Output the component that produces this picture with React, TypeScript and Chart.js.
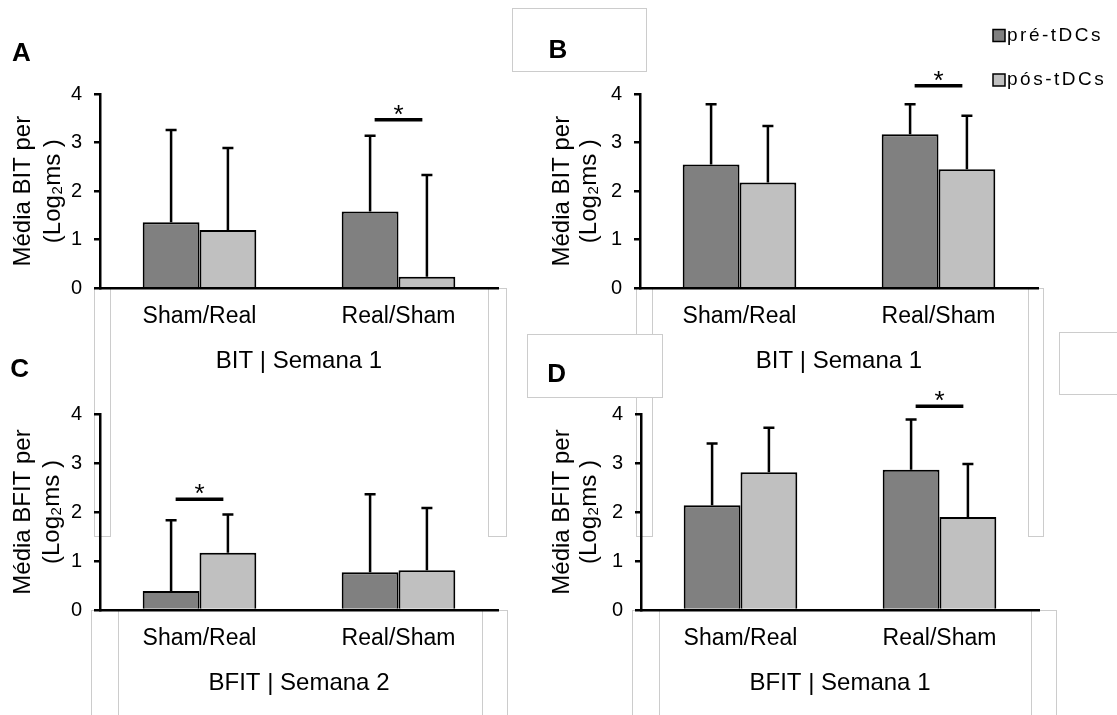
import React, { useEffect, useRef } from 'react';
import { Chart, registerables } from 'chart.js';

Chart.register(...registerables);

// ---------------- data ----------------
const categories = ['Sham/Real', 'Real/Sham'];
const seriesNames = ['pré-tDCs', 'pós-tDCs'];
const yTickValues = [0, 1, 2, 3, 4];
const sigMark = '*';
const panelLetters = ['A', 'B', 'C', 'D'];

const yTitleBIT = ['Média BIT per', '(Log₂ms )'];
const yTitleBFIT = ['Média BFIT per', '(Log₂ms )'];
const xTitleA = 'BIT | Semana 1';
const xTitleB = 'BIT | Semana 1';
const xTitleC = 'BFIT | Semana 2';
const xTitleD = 'BFIT | Semana 1';

// Panel A
const preA = [1.36, 1.58];
const preSdA = [1.9, 1.56];
const postA = [1.2, 0.24];
const postSdA = [1.69, 2.09];
const sigA = { category: 'Real/Sham', value: 3.47 };

// Panel B
const preB = [2.55, 3.17];
const preSdB = [1.24, 0.62];
const postB = [2.18, 2.45];
const postSdB = [1.16, 1.1];
const sigB = { category: 'Real/Sham', value: 4.17 };

// Panel C
const preC = [0.39, 0.77];
const preSdC = [1.44, 1.59];
const postC = [1.17, 0.81];
const postSdC = [0.78, 1.27];
const sigC = { category: 'Sham/Real', value: 2.26 };

// Panel D
const preD = [2.14, 2.86];
const preSdD = [1.26, 1.03];
const postD = [2.81, 1.9];
const postSdD = [0.91, 1.08];
const sigD = { category: 'Real/Sham', value: 4.16 };

// ---------------- styles / layout ----------------
const FONT = "'Liberation Sans', Arial, Helvetica, sans-serif";
const COLORS = { pre: '#808080', post: '#c0c0c0', ink: '#000000', box: '#cccccc' };
const X_AXIS_H = 100;

const FRAMES = [
  { left: 0, top: 0, width: 540, height: 400, plotLeft: 100, plotRight: 498, plotTop: 94, plotBottom: 288.3, titleLine1: 23.3, titleLH: 30 },
  { left: 540, top: 0, width: 577, height: 400, plotLeft: 640, plotRight: 1038, plotTop: 94, plotBottom: 288.3, titleLine1: 562.5, titleLH: 27 },
  { left: 0, top: 320, width: 540, height: 395, plotLeft: 100, plotRight: 498, plotTop: 414, plotBottom: 610, titleLine1: 23.5, titleLH: 29 },
  { left: 540, top: 320, width: 577, height: 395, plotLeft: 641, plotRight: 1039, plotTop: 414, plotBottom: 610, titleLine1: 562.5, titleLH: 27 },
];

const LETTER_POS = [
  { x: 21.5, y: 52 },
  { x: 558, y: 49 },
  { x: 19.7, y: 368 },
  { x: 556.7, y: 373 },
];

const LEGEND = { boxX: 993, boxSize: 12, textX: 1007, rowY: [35.5, 80], fontSize: 19, spacing: 2.5 };

// faint outline rectangles present in the source figure [x1, y1, x2, y2, whiteFill]
const BOXES: [number, number, number, number, boolean][] = [
  [94, 288, 111, 537, false],
  [488, 288, 507, 537, false],
  [635.5, 288, 653, 537, false],
  [1028, 288, 1044, 537, false],
  [91, 610, 119, 730, false],
  [482, 610, 508, 730, false],
  [632, 610, 660, 730, false],
  [1031, 610, 1057, 730, false],
  [1059, 332, 1140, 395, true],
  [527, 334, 663, 398, true],
  [512, 8, 647, 72, true],
];

const PANELS = [
  { pre: preA, preSd: preSdA, post: postA, postSd: postSdA, sig: sigA, yTitle: yTitleBIT, xTitle: xTitleA, legend: false },
  { pre: preB, preSd: preSdB, post: postB, postSd: postSdB, sig: sigB, yTitle: yTitleBIT, xTitle: xTitleB, legend: true },
  { pre: preC, preSd: preSdC, post: postC, postSd: postSdC, sig: sigC, yTitle: yTitleBFIT, xTitle: xTitleC, legend: false },
  { pre: preD, preSd: preSdD, post: postD, postSd: postSdD, sig: sigD, yTitle: yTitleBFIT, xTitle: xTitleD, legend: false },
];

function makeChart(canvas: HTMLCanvasElement, frame: any, spec: any) {
  const sds = [spec.preSd, spec.postSd];
  const annotations = {
    id: 'annotations',
    afterDatasetsDraw(chart: any) {
      const ctx = chart.ctx;
      const y = chart.scales.y;
      ctx.save();
      ctx.strokeStyle = COLORS.ink;
      ctx.lineCap = 'butt';
      // error bars (upper only)
      ctx.lineWidth = 2.5;
      chart.data.datasets.forEach((ds: any, di: number) => {
        const meta = chart.getDatasetMeta(di);
        meta.data.forEach((bar: any, j: number) => {
          const topPx = y.getPixelForValue(ds.data[j] + sds[di][j]);
          ctx.beginPath();
          ctx.moveTo(bar.x, bar.y);
          ctx.lineTo(bar.x, topPx);
          ctx.moveTo(bar.x - 5.5, topPx);
          ctx.lineTo(bar.x + 5.5, topPx);
          ctx.stroke();
        });
      });
      // significance bracket
      const ci = categories.indexOf(spec.sig.category);
      const b0 = chart.getDatasetMeta(0).data[ci];
      const b1 = chart.getDatasetMeta(1).data[ci];
      const w = b0.width;
      const ly = y.getPixelForValue(spec.sig.value);
      const x0 = b0.x + 0.08 * w;
      const x1 = b1.x - 0.08 * w;
      ctx.lineWidth = 3.5;
      ctx.beginPath();
      ctx.moveTo(x0, ly);
      ctx.lineTo(x1, ly);
      ctx.stroke();
      ctx.fillStyle = COLORS.ink;
      ctx.font = `26px ${FONT}`;
      ctx.textAlign = 'center';
      ctx.textBaseline = 'alphabetic';
      ctx.fillText(sigMark, (x0 + x1) / 2, ly + 3);
      ctx.restore();
    },
    afterDraw(chart: any) {
      if (!spec.legend) return;
      const ctx = chart.ctx;
      ctx.save();
      chart.data.datasets.forEach((ds: any, di: number) => {
        const cy = LEGEND.rowY[di] - frame.top;
        const bx = LEGEND.boxX - frame.left;
        ctx.fillStyle = ds.backgroundColor;
        ctx.fillRect(bx, cy - LEGEND.boxSize / 2, LEGEND.boxSize, LEGEND.boxSize);
        ctx.strokeStyle = COLORS.ink;
        ctx.lineWidth = 1.5;
        ctx.strokeRect(bx, cy - LEGEND.boxSize / 2, LEGEND.boxSize, LEGEND.boxSize);
        ctx.fillStyle = COLORS.ink;
        ctx.font = `${LEGEND.fontSize}px ${FONT}`;
        (ctx as any).letterSpacing = `${LEGEND.spacing}px`;
        ctx.textAlign = 'left';
        ctx.textBaseline = 'middle';
        ctx.fillText(ds.label, LEGEND.textX - frame.left, cy);
        (ctx as any).letterSpacing = '0px';
      });
      ctx.restore();
    },
  };

  return new Chart(canvas, {
    type: 'bar',
    data: {
      labels: categories,
      datasets: [
        { label: seriesNames[0], data: spec.pre, backgroundColor: COLORS.pre, borderColor: COLORS.ink, borderWidth: 2, barPercentage: 1, categoryPercentage: 0.571 },
        { label: seriesNames[1], data: spec.post, backgroundColor: COLORS.post, borderColor: COLORS.ink, borderWidth: 2, barPercentage: 1, categoryPercentage: 0.571 },
      ],
    },
    options: {
      responsive: false,
      animation: false,
      events: [],
      layout: {
        padding: {
          left: 0,
          top: frame.plotTop - frame.top,
          right: frame.left + frame.width - frame.plotRight,
          bottom: frame.top + frame.height - frame.plotBottom - X_AXIS_H,
        },
      },
      plugins: { legend: { display: false }, tooltip: { enabled: false }, title: { display: false } },
      scales: {
        x: {
          grid: { display: false, drawTicks: false },
          border: { display: true, color: COLORS.ink, width: 2.5 },
          ticks: { color: COLORS.ink, font: { family: FONT, size: 23 }, padding: 15, maxRotation: 0 },
          title: {
            display: true,
            text: spec.xTitle,
            color: COLORS.ink,
            font: { family: FONT, size: 24, lineHeight: 1.2 },
            padding: { top: 0, bottom: 12.6 },
          },
          afterFit: (s: any) => { s.height = X_AXIS_H; },
        },
        y: {
          min: 0,
          max: 4,
          afterBuildTicks: (s: any) => { s.ticks = yTickValues.map((v) => ({ value: v })); },
          ticks: { color: COLORS.ink, font: { family: FONT, size: 20 }, padding: 12 },
          grid: { display: true, drawOnChartArea: false, drawTicks: true, tickLength: 6, color: COLORS.ink, lineWidth: 2.5 },
          border: { display: true, color: COLORS.ink, width: 2.5 },
          title: {
            display: true,
            text: spec.yTitle,
            color: COLORS.ink,
            font: { family: FONT, size: 24, lineHeight: `${frame.titleLH}px` },
            padding: { top: frame.titleLine1 - frame.left - frame.titleLH / 2, bottom: 0 },
          },
          afterFit: (s: any) => { s.width = frame.plotLeft - frame.left; },
        },
      },
    } as any,
    plugins: [annotations],
  });
}

export default function App() {
  const refs = [useRef<HTMLCanvasElement>(null), useRef<HTMLCanvasElement>(null), useRef<HTMLCanvasElement>(null), useRef<HTMLCanvasElement>(null)];

  useEffect(() => {
    const charts = PANELS.map((spec, i) => makeChart(refs[i].current as HTMLCanvasElement, FRAMES[i], spec));
    return () => charts.forEach((c) => c.destroy());
  }, []);

  return (
    <div style={{ position: 'fixed', left: 0, top: 0, width: 1117, height: 715, background: '#fff', overflow: 'hidden', fontFamily: FONT }}>
      {BOXES.map(([x1, y1, x2, y2, fill], i) => (
        <div
          key={`box${i}`}
          style={{
            position: 'absolute',
            left: x1,
            top: y1,
            width: x2 - x1,
            height: y2 - y1,
            boxSizing: 'border-box',
            border: `1px solid ${COLORS.box}`,
            background: fill ? '#fff' : 'transparent',
            zIndex: 0,
          }}
        />
      ))}
      {FRAMES.map((f, i) => (
        <canvas
          key={`c${i}`}
          ref={refs[i]}
          width={f.width}
          height={f.height}
          style={{ position: 'absolute', left: f.left, top: f.top, width: f.width, height: f.height, zIndex: 1 }}
        />
      ))}
      {panelLetters.map((l, i) => (
        <div
          key={`l${i}`}
          style={{
            position: 'absolute',
            left: LETTER_POS[i].x - 20,
            top: LETTER_POS[i].y - 13,
            width: 40,
            textAlign: 'center',
            fontSize: 26,
            lineHeight: '26px',
            fontWeight: 'bold',
            color: COLORS.ink,
            zIndex: 2,
          }}
        >
          {l}
        </div>
      ))}
    </div>
  );
}
